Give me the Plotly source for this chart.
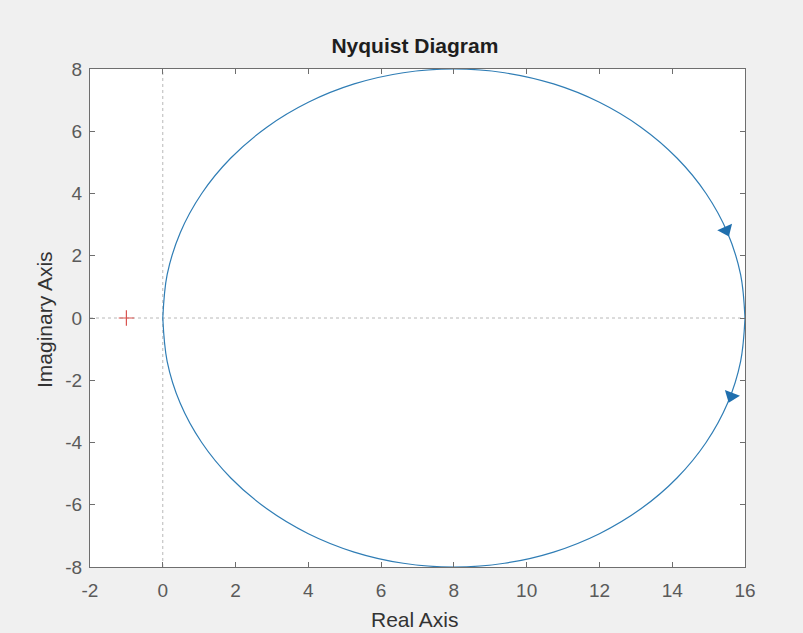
import plotly.graph_objects as go

# Nyquist curve points (positive frequencies, from 16 to 0 through the lower half)
re_pos = [16.00, 15.88, 15.52, 14.93, 14.13, 13.14, 12.00, 10.74, 9.39, 8.00,
          6.61, 5.26, 4.00, 2.86, 1.87, 1.07, 0.48, 0.12, 0.00]
im_pos = [0.00, -1.39, -2.74, -4.00, -5.14, -6.13, -6.93, -7.52, -7.88, -8.00,
          -7.88, -7.52, -6.93, -6.13, -5.14, -4.00, -2.74, -1.39, 0.00]
# negative frequencies (upper half, from 0 to 16)
re_neg = [0.00, 0.12, 0.48, 1.07, 1.87, 2.86, 4.00, 5.26, 6.61, 8.00,
          9.39, 10.74, 12.00, 13.14, 14.13, 14.93, 15.52, 15.88, 16.00]
im_neg = [0.00, 1.39, 2.74, 4.00, 5.14, 6.13, 6.93, 7.52, 7.88, 8.00,
          7.88, 7.52, 6.93, 6.13, 5.14, 4.00, 2.74, 1.39, 0.00]

# direction arrows
arrow_re = [15.48, 15.62]
arrow_im = [2.82, -2.51]
arrow_angle = [-24, 21]

# critical point
crit_re = [-1]
crit_im = [0]

x_ticks = [-2, 0, 2, 4, 6, 8, 10, 12, 14, 16]
y_ticks = [-8, -6, -4, -2, 0, 2, 4, 6, 8]

line_col = "#2f7db5"
frame_col = "#6e6e6e"
tick_col = "#5a5a5a"
FONT = "Liberation Sans, Arial, sans-serif"

fig = go.Figure()

# zero lines (dotted)
fig.add_trace(go.Scatter(x=[0, 0], y=[-8, 8], mode="lines",
                         line=dict(color="#b8b8b8", width=1, dash="dot"),
                         hoverinfo="skip", showlegend=False))
fig.add_trace(go.Scatter(x=[-2, 16], y=[0, 0], mode="lines",
                         line=dict(color="#b8b8b8", width=1, dash="dot"),
                         hoverinfo="skip", showlegend=False))

fig.add_trace(go.Scatter(x=re_neg, y=im_neg, mode="lines",
                         line=dict(color=line_col, width=1.2, shape="spline"),
                         showlegend=False))
fig.add_trace(go.Scatter(x=re_pos, y=im_pos, mode="lines",
                         line=dict(color=line_col, width=1.2, shape="spline"),
                         showlegend=False))

fig.add_trace(go.Scatter(x=arrow_re, y=arrow_im, mode="markers",
                         marker=dict(symbol="triangle-down", size=14, color="#1f6fae",
                                     angle=arrow_angle, line=dict(width=0)),
                         showlegend=False))

fig.add_trace(go.Scatter(x=crit_re, y=crit_im, mode="markers",
                         marker=dict(symbol="cross-thin", size=11,
                                     line=dict(color="#d9534f", width=1.2)),
                         showlegend=False))

axis_common = dict(
    showgrid=False, zeroline=False,
    showline=True, linecolor=frame_col, linewidth=1, mirror="ticks",
    ticks="inside", ticklen=5, tickcolor=frame_col, tickwidth=1,
    tickfont=dict(family=FONT, size=19, color=tick_col),
)

fig.update_layout(
    width=803, height=633,
    paper_bgcolor="#f0f0f0", plot_bgcolor="#ffffff",
    margin=dict(l=90, r=58, t=69, b=66),
    title=dict(text="<b>Nyquist Diagram</b>", x=0.496, xanchor="center", xref="paper",
               y=1 - 46 / 633, yanchor="middle", yref="container",
               font=dict(family=FONT, size=21, color="#1e1e1e")),
    xaxis=dict(range=[-2, 16], tickvals=x_ticks, ticktext=[str(v) for v in x_ticks],
               ticklabelstandoff=6, **axis_common),
    yaxis=dict(range=[-8, 8], tickvals=y_ticks, ticktext=[str(v) for v in y_ticks],
               ticklabelstandoff=3, **axis_common),
    annotations=[
        dict(text="Real Axis", xref="paper", yref="paper", x=0.496, y=(567 - 619) / 498,
             xanchor="center", yanchor="middle", showarrow=False,
             font=dict(family=FONT, size=21, color="#333333")),
        dict(text="Imaginary Axis", xref="paper", yref="paper", x=(44 - 90) / 655,
             y=(567 - 320) / 498, xanchor="center", yanchor="middle", showarrow=False,
             textangle=-90, font=dict(family=FONT, size=21, color="#333333")),
    ],
)

fig.write_html("out.html")
